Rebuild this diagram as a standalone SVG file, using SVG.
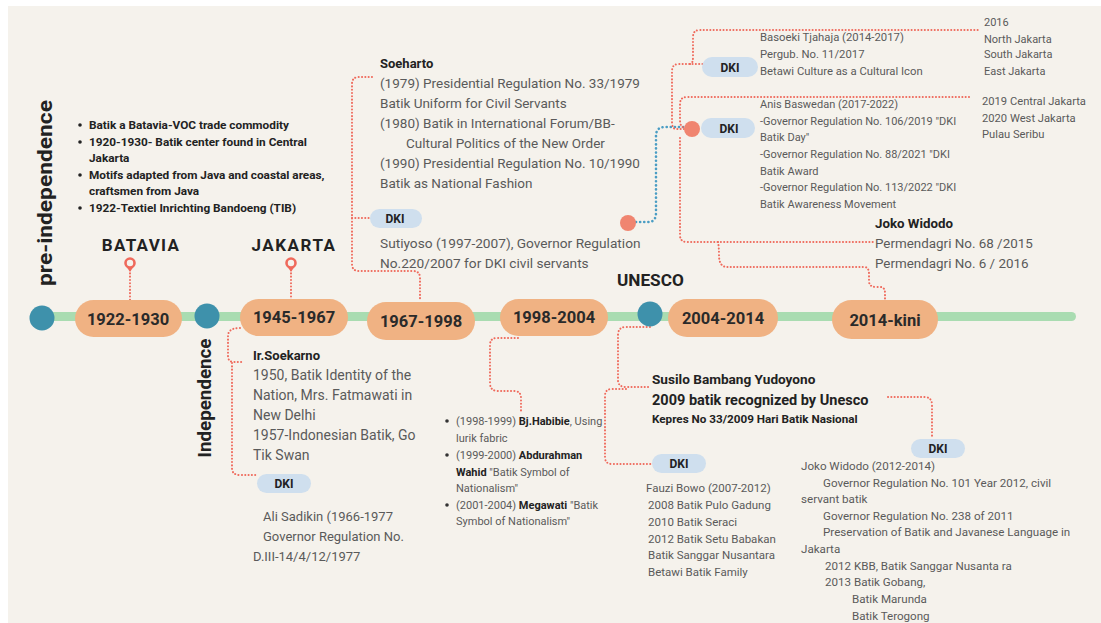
<svg xmlns="http://www.w3.org/2000/svg" width="1101" height="623" viewBox="0 0 1101 623">
<style>
.t{font-family:Roboto,"Liberation Sans",sans-serif;fill:#5a5a5a}
.b{font-family:Roboto,"Liberation Sans",sans-serif;fill:#222;font-weight:bold}
.yr{font-family:Roboto,"Liberation Sans",sans-serif;fill:#2a2a2a;font-weight:bold;font-size:16.5px;text-anchor:middle}
.pill{fill:#f0b283}
.dki{fill:#cfdfee}
.dk{font-family:Roboto,"Liberation Sans",sans-serif;fill:#222;font-weight:bold;font-size:12px;text-anchor:middle}
.dot{fill:#3e91ab}
.rl{fill:none;stroke:#ef6a5c;stroke-width:2;stroke-dasharray:0.1 3.2;stroke-linecap:round}
.bl{fill:none;stroke:#4a9dc4;stroke-width:2.6;stroke-dasharray:0.1 4;stroke-linecap:round}
</style>
<rect x="0" y="0" width="1101" height="623" fill="#ffffff"/>
<rect x="8" y="6" width="1093" height="617" fill="#f5f2ec"/>

<g id="timeline">
<rect x="40" y="312" width="1036" height="9" rx="4.5" fill="#a9dcb1"/>
</g>

<g id="connectors">
<path class="rl" d="M130 270 V300"/>
<path class="rl" d="M291 270 V300"/>
<path class="rl" d="M372 77 H359 Q352 77 352 84 V264 Q352 271 359 271 H413 Q420 271 420 278 V300"/>
<path class="rl" d="M352 218 H370"/>
<path class="bl" d="M636 222 H648 Q656 222 656 213 V136 Q656 127 665 127 H684"/>
<path class="rl" d="M684 129 H676 Q672 129 672 122 V71 Q672 64 679 64 H703"/>
<path class="rl" d="M690 64 Q693 64 693 57 V37 Q693 30 700 30 H978"/>
<path class="rl" d="M686 128 Q680 128 680 120 V104 Q680 97 687 97 H970"/>
<path class="rl" d="M680 138 V235 Q680 242 687 242 H873"/>
<path class="rl" d="M718 242 Q719 247 719 255 Q719 267 727 267 H864 Q869 267 869 274 V281 Q869 287 876 287 H880 Q885 287 885 293 V300"/>
<path class="rl" d="M240 328 Q228 328 228 336 V356 Q228 362 234 362 H243"/>
<path class="rl" d="M232 363 V468 Q232 475 240 475 H257"/>
<path class="rl" d="M518 338 H497 Q490 338 490 345 V383 Q490 391 498 391 H514 Q521 391 521 398 V413"/>
<path class="rl" d="M650 327 H626 Q618 327 618 335 V380 Q618 387 626 387 H650"/>
<path class="rl" d="M626 389 H612 Q605 389 605 396 V457 Q605 464 612 464 H652"/>
<path class="rl" d="M888 397 H924 Q932 397 932 405 V437"/>
</g>

<g id="pre-independence">
<text class="b" transform="translate(52,193) rotate(-90)" font-size="20" text-anchor="middle" textLength="186" lengthAdjust="spacingAndGlyphs">pre-independence</text>
<g class="b" font-size="11.8">
<circle cx="80" cy="125" r="1.8" fill="#222"/>
<circle cx="80" cy="142" r="1.8" fill="#222"/>
<circle cx="80" cy="175" r="1.8" fill="#222"/>
<circle cx="80" cy="208" r="1.8" fill="#222"/>
<text x="89" y="129">Batik a Batavia-VOC trade commodity</text>
<text x="89" y="146">1920-1930- Batik center found in Central</text>
<text x="89" y="162">Jakarta</text>
<text x="89" y="179">Motifs adapted from Java and coastal areas,</text>
<text x="89" y="195">craftsmen from Java</text>
<text x="89" y="212">1922-Textiel Inrichting Bandoeng (TIB)</text>
</g>
</g>

<g id="batavia">
<text class="b" x="141" y="251" font-size="17" text-anchor="middle" letter-spacing="1.3">BATAVIA</text>
<path d="M126 266 L130 272 L134 266 Z" fill="#ef6a5c"/>
<circle cx="130" cy="263" r="4.5" fill="#f5f2ec" stroke="#ef6a5c" stroke-width="2.6"/>
</g>
<g id="jakarta">
<text class="b" x="294" y="251" font-size="17" text-anchor="middle" letter-spacing="1.5">JAKARTA</text>
<path d="M287 266 L291 272 L295 266 Z" fill="#ef6a5c"/>
<circle cx="291" cy="263" r="4.5" fill="#f5f2ec" stroke="#ef6a5c" stroke-width="2.6"/>
</g>

<g id="dot-pre"><circle class="dot" cx="42" cy="318" r="12.5"/></g>
<g id="dot-ind"><circle class="dot" cx="207" cy="316" r="12.5"/></g>
<g id="dot-unesco"><circle class="dot" cx="650" cy="314" r="12.5"/></g>

<g id="p1922"><rect class="pill" x="75" y="300" width="107" height="37" rx="18.5"/><text class="yr" x="128" y="325">1922-1930</text></g>
<g id="p1945"><rect class="pill" x="240" y="299" width="108" height="37" rx="18.5"/><text class="yr" x="294" y="323">1945-1967</text></g>
<g id="p1967"><rect class="pill" x="367" y="302" width="108" height="38" rx="19"/><text class="yr" x="421" y="327">1967-1998</text></g>
<g id="p1998"><rect class="pill" x="500" y="299" width="108" height="37" rx="18.5"/><text class="yr" x="554" y="323">1998-2004</text></g>
<g id="p2004"><rect class="pill" x="668" y="299" width="110" height="38" rx="19"/><text class="yr" x="723" y="324">2004-2014</text></g>
<g id="p2014"><rect class="pill" x="832" y="300" width="106" height="39" rx="19.5"/><text class="yr" x="885" y="326">2014-kini</text></g>

<g id="soeharto">
<text class="b" x="380" y="68" font-size="13">Soeharto</text>
<g class="t" font-size="13.5">
<text x="380" y="88">(1979) Presidential Regulation No. 33/1979</text>
<text x="380" y="108">Batik Uniform for Civil Servants</text>
<text x="380" y="128">(1980) Batik in International Forum/BB-</text>
<text x="406" y="148">Cultural Politics of the New Order</text>
<text x="380" y="168">(1990) Presidential Regulation No. 10/1990</text>
<text x="380" y="188">Batik as National Fashion</text>
</g>
</g>

<g id="dki-sutiyoso">
<rect class="dki" x="370" y="209" width="52" height="19" rx="9.5"/>
<text class="dk" x="395" y="223">DKI</text>
<g class="t" font-size="13.7">
<text x="380" y="248">Sutiyoso (1997-2007), Governor Regulation</text>
<text x="380" y="268">No.220/2007 for DKI civil servants</text>
</g>
</g>

<g id="orange-dot-1"><circle cx="628" cy="223" r="8" fill="#f08570"/></g>
<g id="orange-dot-2"><circle cx="692" cy="129" r="8" fill="#f08570"/></g>

<g id="dki-basoeki">
<rect class="dki" x="702" y="57" width="56" height="20" rx="10"/>
<text class="dk" x="730" y="71.5">DKI</text>
<g class="t" font-size="11.3">
<text x="760" y="41">Basoeki Tjahaja (2014-2017)</text>
<text x="760" y="58">Pergub. No. 11/2017</text>
<text x="760" y="75">Betawi Culture as a Cultural Icon</text>
</g>
<g class="t" font-size="11">
<text x="984" y="26">2016</text>
<text x="984" y="43">North Jakarta</text>
<text x="984" y="58">South Jakarta</text>
<text x="984" y="75">East Jakarta</text>
</g>
</g>

<g id="dki-anis">
<rect class="dki" x="701" y="118" width="54" height="20" rx="10"/>
<text class="dk" x="729" y="132.5">DKI</text>
<g class="t" font-size="11">
<text x="760" y="108">Anis Baswedan (2017-2022)</text>
<text x="760" y="125">-Governor Regulation No. 106/2019 "DKI</text>
<text x="760" y="141">Batik Day"</text>
<text x="760" y="158">-Governor Regulation No. 88/2021 "DKI</text>
<text x="760" y="175">Batik Award</text>
<text x="760" y="191">-Governor Regulation No. 113/2022 "DKI</text>
<text x="760" y="208">Batik Awareness Movement</text>
</g>
<g class="t" font-size="11.2">
<text x="982" y="105">2019 Central Jakarta</text>
<text x="982" y="122">2020 West Jakarta</text>
<text x="982" y="138">Pulau Seribu</text>
</g>
</g>

<g id="jokowi-top">
<text class="b" x="875" y="228" font-size="13.3">Joko Widodo</text>
<g class="t" font-size="13.4">
<text x="875" y="248">Permendagri No. 68 /2015</text>
<text x="875" y="268">Permendagri No. 6 / 2016</text>
</g>
</g>

<g id="unesco"><text class="b" x="617" y="286" font-size="17.2">UNESCO</text></g>

<g id="independence">
<text class="b" transform="translate(211,398) rotate(-90)" font-size="18" text-anchor="middle" textLength="119" lengthAdjust="spacingAndGlyphs">Independence</text>
</g>

<g id="soekarno">
<text class="b" x="253" y="360" font-size="13">Ir.Soekarno</text>
<g class="t" font-size="14">
<text x="253" y="380">1950, Batik Identity of the</text>
<text x="253" y="400">Nation, Mrs. Fatmawati in</text>
<text x="253" y="420">New Delhi</text>
<text x="253" y="440">1957-Indonesian Batik, Go</text>
<text x="253" y="460">Tik Swan</text>
</g>
</g>

<g id="dki-ali">
<rect class="dki" x="257" y="474" width="54" height="19" rx="9.5"/>
<text class="dk" x="284" y="488">DKI</text>
<g class="t" font-size="13">
<text x="263" y="521">Ali Sadikin (1966-1977</text>
<text x="263" y="541">Governor Regulation No.</text>
<text x="253" y="561">D.III-14/4/12/1977</text>
</g>
</g>

<g id="reformasi" font-size="11">
<circle cx="447" cy="421" r="1.8" fill="#333"/>
<circle cx="447" cy="455" r="1.8" fill="#333"/>
<circle cx="447" cy="505" r="1.8" fill="#333"/>
<text class="t" x="456" y="425">(1998-1999) <tspan class="b">Bj.Habibie</tspan>, Using</text>
<text class="t" x="456" y="442">lurik fabric</text>
<text class="t" x="456" y="459">(1999-2000) <tspan class="b">Abdurahman</tspan></text>
<text class="t" x="456" y="476"><tspan class="b">Wahid</tspan>  "Batik Symbol of</text>
<text class="t" x="456" y="492">Nationalism"</text>
<text class="t" x="456" y="509">(2001-2004) <tspan class="b">Megawati</tspan> "Batik</text>
<text class="t" x="456" y="525">Symbol of Nationalism"</text>
</g>

<g id="sby">
<text class="b" x="652" y="384" font-size="13.6">Susilo Bambang Yudoyono</text>
<text class="b" x="652" y="405" font-size="14.5">2009 batik recognized by Unesco</text>
<text class="b" x="652" y="423" font-size="11.7">Kepres No 33/2009 Hari Batik Nasional</text>
</g>

<g id="dki-fauzi">
<rect class="dki" x="652" y="454" width="54" height="19" rx="9.5"/>
<text class="dk" x="679" y="468">DKI</text>
<g class="t" font-size="11.5">
<text x="646" y="492">Fauzi Bowo (2007-2012)</text>
<text x="648" y="509">2008 Batik Pulo Gadung</text>
<text x="648" y="526">2010 Batik Seraci</text>
<text x="648" y="543">2012 Batik Setu Babakan</text>
<text x="648" y="559">Batik Sanggar Nusantara</text>
<text x="648" y="576">Betawi Batik Family</text>
</g>
</g>

<g id="dki-jokowi">
<rect class="dki" x="911" y="439" width="54" height="19" rx="9.5"/>
<text class="dk" x="938" y="453">DKI</text>
<g class="t" font-size="11.6">
<text x="801" y="470">Joko Widodo (2012-2014)</text>
<text x="823" y="487">Governor Regulation No. 101 Year 2012, civil</text>
<text x="801" y="503">servant batik</text>
<text x="823" y="520">Governor Regulation No. 238 of 2011</text>
<text x="823" y="536">Preservation of Batik and Javanese Language in</text>
<text x="801" y="553">Jakarta</text>
<text x="825" y="570">2012 KBB, Batik Sanggar Nusanta ra</text>
<text x="825" y="586">2013 Batik Gobang,</text>
<text x="852" y="603">Batik Marunda</text>
<text x="852" y="620">Batik Terogong</text>
</g>
</g>
</svg>
